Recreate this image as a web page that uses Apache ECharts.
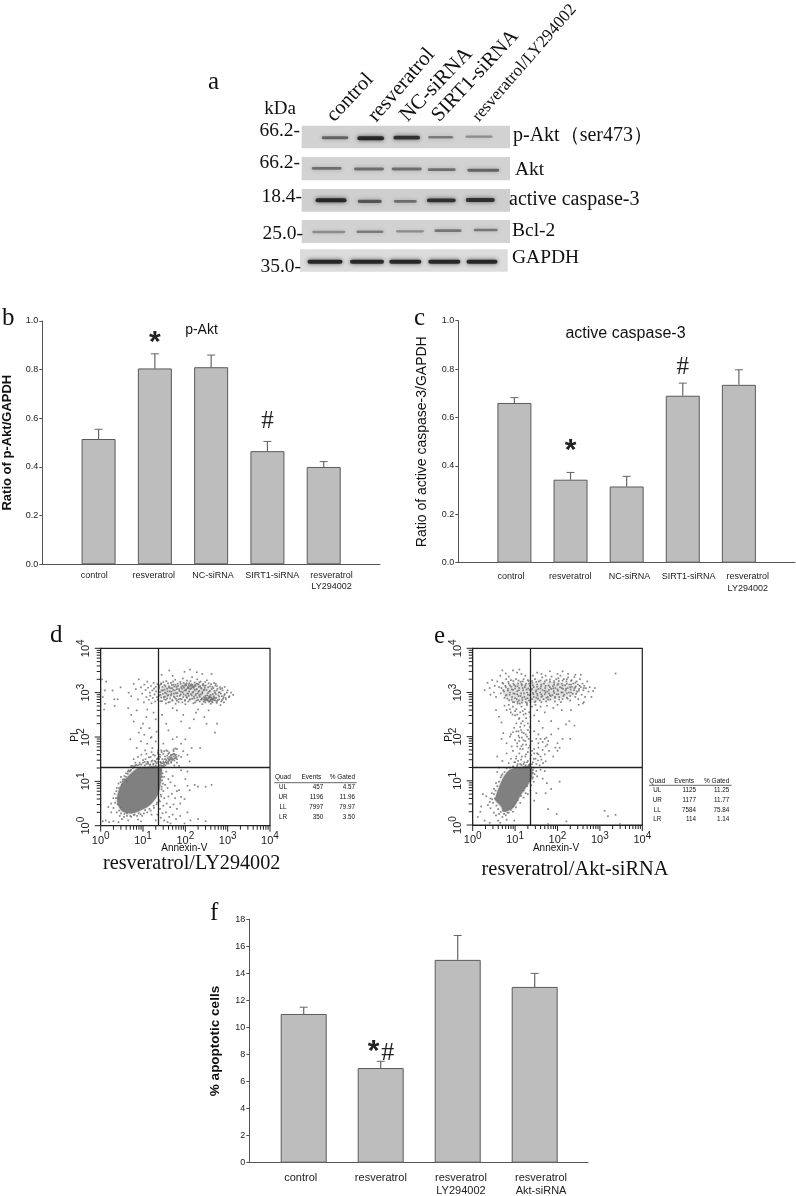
<!DOCTYPE html>
<html><head><meta charset="utf-8">
<style>html,body{margin:0;padding:0;background:#fff}#c{width:796px;height:1196px}</style>
<script src="https://cdn.jsdelivr.net/npm/echarts@6/dist/echarts.min.js"></script>
</head><body><div id="c"></div>
<script>
// ---------- data ----------
const blotIntensity = [
  [.55,1,.92,.42,.3],     // p-Akt
  [.5,.5,.5,.5,.55],      // Akt
  [1,.65,.5,.92,.92],     // active caspase-3
  [.3,.4,.3,.45,.45],     // Bcl-2
  [1,1,1,1,1]             // GAPDH
];
const blotNames = ['p-Akt（ser473）','Akt','active caspase-3','Bcl-2','GAPDH'];
const blotWeights = ['66.2-','66.2-','18.4-','25.0-','35.0-'];
const blotLanes = ['control','resveratrol','NC-siRNA','SIRT1-siRNA','resveratrol/LY294002'];

const bCategories = ['control','resveratrol','NC-siRNA','SIRT1-siRNA','resveratrol\nLY294002'];
const bValues = [.515,.805,.81,.465,.40];
const bErrorTops = [.555,.865,.86,.505,.422];
const cCategories = bCategories;
const cValues = [.66,.343,.315,.69,.735];
const cErrorTops = [.682,.373,.357,.742,.797];
const fCategories = ['control','resveratrol','resveratrol\nLY294002','resveratrol\nAkt-siRNA'];
const fValues = [11,7,15,13];
const fErrorTops = [11.5,7.5,16.8,14];

const dQuad = [['UL','457','4.57'],['UR','1196','11.96'],['LL','7997','79.97'],['LR','350','3.50']];
const eQuad = [['UL','1125','11.25'],['UR','1177','11.77'],['LL','7584','75.84'],['LR','114','1.14']];

// flow cytometry gates (Annexin-V, PI)
const dGate = [23,20.3];
const eGate = [22.8,19.8];

// dense populations, outlines in log10(Annexin-V), log10(PI)
const dBlob = [.40,.70,.50,.95,.62,1.08,.74,1.2,.89,1.3,1.15,1.33,1.362,1.33,1.44,1.3,1.42,1.0,1.36,.72,1.2,.5,1.02,.38,.75,.28,.52,.32,.40,.5];
const eBlob = [.557,.679,.715,1.056,.872,1.244,1.1,1.3,1.382,1.319,1.382,1.056,1.108,.641,.98,.42,.872,.34,.72,.3,.675,.414,.534,.566];
const eBand = [.7,3.05,1.0,3.2,1.36,3.2,1.9,3.25,2.4,3.12,2.5,3.0,2.0,2.85,1.5,2.8,1.0,2.78,.75,2.9];
const dBand = [1.4,3.1,1.9,3.18,2.4,3.15,2.75,3.0,2.7,2.82,2.35,2.82,1.9,2.92,1.4,2.9];

// individual events, flat pairs of log10(Annexin-V), log10(PI)
const dDots = [
1.38,3.12,1.41,2.95,1.43,3.21,1.45,2.81,1.47,3.05,1.49,2.9,1.51,3.17,1.52,3.0,1.54,2.84,1.55,3.26,1.57,3.09,1.58,2.93,1.6,2.78,1.61,3.14,1.63,3.03,1.64,2.87,1.66,3.22,1.67,2.97,1.69,3.1,1.7,2.82,1.72,3.18,1.73,2.91,1.75,3.05,1.76,3.29,1.78,2.86,1.79,3.13,1.81,2.99,1.82,3.2,1.84,2.79,1.85,3.08,1.87,2.93,1.88,3.24,1.9,3.02,1.91,2.85,1.93,3.16,1.94,3.32,1.96,2.96,1.97,3.11,1.99,2.82,2.0,3.19,2.01,3.05,2.03,2.9,2.04,3.27,2.06,3.13,2.07,2.98,2.09,3.21,2.1,2.84,2.12,3.08,2.13,3.17,2.15,2.94,2.16,3.35,2.18,3.12,2.19,3.02,2.21,2.87,2.22,3.23,2.24,3.15,2.25,2.97,2.27,3.08,2.28,3.3,2.3,2.83,2.31,3.18,2.33,3.04,2.34,2.91,2.36,3.25,2.37,3.11,2.39,2.86,2.4,2.98,2.42,3.2,2.43,2.8,2.45,3.07,2.46,2.89,2.48,3.16,2.49,2.84,2.51,3.28,2.52,2.94,2.54,3.12,2.55,2.87,2.57,2.81,2.58,3.04,2.6,2.9,2.61,3.19,2.63,2.85,2.64,2.78,2.66,3.1,2.67,2.92,2.69,2.83,2.7,3.0,2.72,3.2,2.73,2.88,2.75,2.8,2.76,3.09,2.78,2.94,2.8,2.85,2.82,3.12,2.84,2.98,2.86,2.83,2.88,3.05,2.9,2.9,2.93,2.97,2.96,2.85,3.0,3.05,3.04,2.92,3.08,3.0,3.13,2.95,
1.95,3.14,2.02,3.17,2.08,3.1,2.14,3.19,2.2,3.14,2.26,3.2,1.44,3.4,1.62,3.5,1.7,3.38,1.98,3.47,2.11,3.52,2.27,3.46,2.4,3.42,2.62,3.42,2.48,2.86,2.53,2.82,2.56,2.9,2.6,2.84,2.5,2.88,2.62,2.88,2.44,2.85,2.66,2.84,
.66,3.0,.72,2.92,.78,3.2,.83,3.08,.88,2.85,.9,3.3,.95,3.12,.98,2.98,1.02,2.78,1.03,3.18,1.06,3.06,1.08,2.9,1.1,3.25,1.12,3.11,1.14,2.84,1.16,3.0,1.17,2.93,1.19,3.15,1.2,2.76,1.22,3.05,1.23,2.88,1.25,3.22,1.26,3.09,1.27,2.96,1.29,2.8,1.3,3.13,1.31,3.03,1.33,2.9,1.34,3.19,1.35,2.84,.03,3.3,.05,2.9,.1,2.75,.1,3.05,.13,3.25,.28,3.05,.32,2.85,.4,2.85,.47,3.12,.08,2.62,.33,2.7,
.65,2.65,.72,2.5,.78,2.35,.85,2.6,.9,2.1,.95,2.2,1.0,2.3,1.03,2.05,1.08,2.45,1.1,2.62,1.15,2.2,1.2,2.0,1.25,2.55,1.3,2.4,1.32,2.12,1.45,2.5,1.55,2.3,1.7,2.65,1.8,2.6,1.9,2.35,1.95,2.5,2.1,2.2,2.2,2.4,2.25,2.55,2.3,2.62,2.45,2.45,2.5,2.3,2.55,2.6,2.75,2.3,2.7,2.1,1.6,2.15,1.7,1.95,1.8,2.0,1.9,1.85,2.0,1.95,
.7,1.95,.85,1.75,.95,1.9,1.05,1.7,1.1,1.85,1.18,1.98,1.22,1.75,1.3,1.9,1.35,1.65,1.48,1.85,1.55,1.7,1.6,1.62,1.72,1.72,1.76,1.74,1.8,1.73,1.9,1.55,1.95,1.68,2.05,1.6,2.1,1.45,2.35,1.75,2.15,1.75,
.72,1.35,.78,1.5,.82,1.42,.88,1.55,.92,1.38,.96,1.6,1.0,1.48,1.04,1.36,1.08,1.62,1.1,1.44,1.14,1.54,1.17,1.38,1.2,1.66,1.22,1.47,1.25,1.4,1.28,1.58,1.3,1.36,1.33,1.5,1.36,1.62,1.36,1.44,1.4,1.6,1.43,1.7,1.5,1.68,1.62,1.65,1.68,1.5,1.74,1.36,1.8,1.5,1.85,1.35,1.9,1.25,2.05,1.22,
.66,1.25,.6,1.18,.55,1.05,.48,1.1,.62,1.0,.5,.92,.42,.95,.38,.85,.33,.72,.3,.62,.25,.5,.3,.4,.38,.3,.45,.22,.55,.2,.62,.28,.72,.2,.8,.25,.9,.28,.98,.22,1.05,.35,1.15,.38,1.25,.45,1.2,.25,1.33,.52,.25,.3,.18,.42,.12,.12,.05,.1,.2,.08,.3,.1,.42,.08,.5,.15,.65,.12,.95,.1,.88,.14,
1.42,1.25,1.46,1.18,1.5,1.1,1.45,1.02,1.55,1.22,1.6,1.05,1.52,.92,1.44,.88,1.48,.78,1.58,.85,1.65,.98,1.7,1.12,1.75,.9,1.8,.78,1.42,.7,1.5,.62,1.6,.66,1.68,.72,1.76,.62,1.85,.8,1.9,.65,1.4,.55,1.48,.45,1.56,.5,1.64,.42,1.72,.48,1.8,.38,1.88,.5,1.4,.38,1.46,.28,1.54,.3,1.62,.2,1.7,.25,1.78,.15,1.42,.18,1.5,.12,1.58,.08,1.34,.25,1.3,.12,1.88,.22,1.98,.6,2.05,.9,2.1,.8,2.0,1.05,2.22,.92,2.3,.88,2.48,.88,2.62,.92,2.05,.3,2.12,.12,2.3,.15,2.48,.1,1.65,.05,1.98,.05
];
const dDotsDense = [
1.48,3.24,1.71,3.25,1.96,3.22,2.12,3.26,2.33,3.23,2.47,3.24,2.68,3.22,1.42,3.19,1.59,3.21,1.77,3.18,1.89,3.2,2.03,3.21,2.17,3.18,2.29,3.2,2.41,3.17,2.55,3.21,2.71,3.16,1.39,3.16,1.53,3.14,1.68,3.17,1.83,3.15,1.99,3.16,2.08,3.17,2.16,3.14,2.23,3.17,2.35,3.15,2.44,3.16,2.58,3.14,2.75,3.15,2.93,3.13,1.46,3.13,1.62,3.11,1.74,3.14,1.9,3.12,2.05,3.1,2.11,3.14,2.2,3.11,2.32,3.13,2.46,3.11,2.64,3.13,2.83,3.08,1.37,3.09,1.51,3.07,1.65,3.1,1.8,3.08,1.92,3.09,2.02,3.07,2.14,3.1,2.26,3.07,2.38,3.09,2.5,3.06,2.62,3.08,2.74,3.05,2.87,3.1,1.44,3.05,1.58,3.03,1.71,3.06,1.86,3.04,1.98,3.05,2.09,3.03,2.22,3.06,2.31,3.02,2.43,3.05,2.56,3.02,2.69,3.04,2.81,3.01,2.98,3.0,1.4,3.01,1.55,2.98,1.67,3.02,1.78,2.99,1.94,3.01,2.05,2.98,2.17,3.0,2.29,2.98,2.4,3.01,2.53,2.99,2.65,2.97,2.79,3.0,2.92,2.94,1.47,2.97,1.6,2.95,1.73,2.98,1.89,2.96,2.01,2.94,2.13,2.97,2.24,2.94,2.36,2.96,2.48,2.93,2.6,2.95,2.72,2.97,2.86,2.92,3.03,2.9,1.38,2.93,1.52,2.91,1.66,2.94,1.81,2.92,1.95,2.9,2.08,2.93,2.2,2.91,2.33,2.94,2.44,2.9,2.57,2.92,2.68,2.89,2.8,2.91,2.95,2.88,1.43,2.89,1.57,2.87,1.75,2.89,1.88,2.86,2.04,2.88,2.16,2.86,2.28,2.89,2.39,2.87,2.5,2.84,2.55,2.88,2.62,2.86,2.7,2.88,2.77,2.83,2.89,2.86,1.5,2.85,1.69,2.83,1.84,2.85,1.99,2.83,2.11,2.85,2.26,2.82,2.37,2.84,2.46,2.82,2.52,2.85,2.59,2.82,2.65,2.86,2.72,2.82,2.85,2.8,1.41,2.81,1.63,2.79,1.8,2.82,1.93,2.78,2.07,2.8,2.23,2.78,2.34,2.8,2.47,2.78,2.56,2.79,2.63,2.8,2.74,2.77,2.91,2.78,1.54,2.76,1.77,2.75,2.0,2.74,2.19,2.76,2.4,2.74,2.6,2.75,2.83,2.72,
.36,.62,.34,.52,.4,.48,.42,.62,.37,.78,.43,.85,.47,.98,.52,1.04,.56,1.12,.6,1.1,.64,1.17,.68,1.22,.72,1.26,.76,1.3,.8,1.33,.84,1.37,.88,1.36,.92,1.42,.96,1.38,1.0,1.42,1.04,1.44,1.08,1.39,1.12,1.43,1.16,1.37,1.2,1.45,1.24,1.38,1.28,1.46,1.32,1.41,1.34,1.52,1.38,1.5,1.42,1.42,1.46,1.5,1.5,1.42,1.55,1.42,1.6,1.4,1.66,1.42,1.74,1.62,1.78,1.6,1.8,1.42,1.84,1.58,1.45,1.1,1.47,.95,1.44,.82,1.43,.66,1.38,.58,1.32,.48,1.26,.4,1.18,.34,1.1,.3,1.02,.28,.94,.26,.86,.22,.78,.24,.7,.22,.62,.22,.56,.26,.48,.28,.44,.34,.48,.42,.52,1.0,.58,1.04,.7,1.24,.82,1.36,.64,1.22,.76,1.35,1.06,1.5,1.12,1.4,1.18,1.55,1.24,1.6,1.3,1.44,1.36,1.7,1.4,1.55,1.44,1.66,1.52,1.56,1.48,1.62,1.58,1.68,1.66,1.6,1.72,1.68,
1.4,1.36,1.43,1.4,1.46,1.35,1.48,1.45,1.5,1.38,1.52,1.5,1.54,1.44,1.56,1.4,1.58,1.52,1.6,1.46,1.62,1.55,1.64,1.5,1.66,1.58,1.67,1.44,1.68,1.54,1.7,1.6,1.71,1.5,1.73,1.56,1.74,1.47,1.76,1.58,1.77,1.52,1.79,1.55,1.41,1.44,1.44,1.35,1.47,1.41,1.49,1.34,1.53,1.36,1.55,1.48,1.57,1.58,1.59,1.43,1.61,1.5,1.63,1.47,1.65,1.54,1.69,1.48,1.72,1.62,1.75,1.52
];
const eDots = [
.62,3.12,.66,2.98,.7,3.22,.72,3.05,.75,2.88,.77,3.15,.79,3.3,.8,2.95,.83,3.08,.85,3.2,.86,2.82,.88,3.0,.9,3.28,.91,3.13,.93,2.9,.95,3.06,.96,3.2,.98,2.78,.99,2.97,1.01,3.14,1.02,3.3,1.04,2.85,1.05,3.03,1.07,3.2,1.08,2.92,1.1,3.1,1.11,2.75,1.13,3.24,1.14,2.98,1.16,3.16,1.17,2.83,1.19,3.05,1.2,3.3,1.22,2.9,1.23,3.12,1.25,2.78,1.26,3.2,1.28,3.0,1.29,2.87,1.31,3.09,1.32,3.26,1.34,2.94,1.35,3.15,
1.38,3.05,1.4,2.85,1.41,3.22,1.43,2.96,1.44,3.12,1.46,2.78,1.47,3.3,1.49,3.02,1.5,2.88,1.52,3.18,1.53,2.93,1.55,3.08,1.56,3.25,1.58,2.82,1.59,3.0,1.61,3.14,1.62,2.9,1.64,3.34,1.65,3.05,1.67,2.85,1.68,3.2,1.7,2.96,1.71,3.1,1.73,2.8,1.74,3.28,1.76,3.02,1.77,2.9,1.79,3.16,1.8,2.98,1.82,3.24,1.83,2.84,1.85,3.08,1.86,3.36,1.88,2.94,1.89,3.14,1.91,3.03,1.92,3.22,1.94,2.88,1.95,3.1,1.97,3.3,1.98,2.96,2.0,3.17,2.01,3.04,2.03,3.26,2.04,2.9,2.06,3.12,2.07,3.38,2.09,3.0,2.1,3.2,2.12,2.85,2.13,3.08,2.15,3.3,2.16,2.95,2.18,3.16,2.19,3.04,2.21,3.25,2.22,2.88,2.24,3.1,2.25,3.34,2.27,3.0,2.28,3.18,2.3,2.92,2.31,3.07,2.33,3.28,2.34,3.13,2.36,2.97,2.37,3.2,2.39,3.05,2.4,3.35,2.42,2.9,2.43,3.14,2.45,3.25,2.46,3.02,2.48,3.18,2.49,2.85,2.51,3.08,2.53,3.3,2.55,3.12,2.57,2.95,2.59,3.2,2.61,3.05,2.63,3.15,2.65,2.9,2.67,3.1,2.7,3.25,2.73,3.02,2.76,3.12,2.8,2.9,2.84,3.03,2.88,3.1,2.62,2.78,
.28,3.05,.35,3.22,.4,3.1,.46,3.28,.5,3.0,.52,3.15,.55,2.9,.58,3.25,.42,2.95,.65,3.38,.7,3.5,.78,3.43,.85,3.36,.95,3.5,1.05,3.45,1.1,3.52,1.15,3.42,1.24,3.38,1.42,3.38,1.52,3.45,1.62,3.42,1.72,3.38,1.82,3.48,2.0,3.42,2.12,3.48,2.25,3.42,2.42,3.4,2.55,3.4,3.37,3.43,
.75,2.7,.8,2.6,.85,2.72,.9,2.55,.95,2.68,1.0,2.48,1.03,2.62,1.06,2.75,1.09,2.4,1.12,2.55,1.15,2.68,1.18,2.35,1.2,2.5,1.23,2.62,1.26,2.42,1.28,2.72,1.3,2.3,1.33,2.55,1.35,2.22,1.4,2.68,1.45,2.48,1.48,2.72,1.52,2.6,1.56,2.35,1.6,2.68,1.65,2.2,1.7,2.55,1.75,2.7,1.85,2.35,1.9,2.65,2.0,2.72,2.02,2.18,2.1,2.6,2.2,2.28,2.28,2.35,2.32,2.6,2.4,2.25,2.5,2.72,2.6,2.75,.55,2.6,.62,2.45,.68,2.32,
.68,1.95,.72,2.08,.8,1.85,.88,2.0,.92,1.78,.95,2.1,1.0,1.92,1.03,2.12,1.05,1.78,1.08,2.02,1.1,1.9,1.12,1.72,1.14,2.15,1.16,1.98,1.18,1.82,1.2,2.08,1.24,1.9,1.28,2.0,1.32,1.75,1.35,2.1,1.4,1.9,1.5,1.95,1.55,2.05,1.65,1.88,1.7,1.95,1.74,1.98,1.78,1.9,1.85,2.05,2.0,1.68,2.05,1.75,2.12,1.95,2.3,1.95,.9,2.05,1.45,2.12,
.58,1.55,.7,1.45,.8,1.62,.85,1.4,.9,1.5,.95,1.68,1.0,1.42,1.03,1.55,1.06,1.38,1.1,1.62,1.14,1.48,1.18,1.72,1.2,1.38,1.24,1.55,1.28,1.42,1.3,1.65,1.33,1.35,1.36,1.5,1.4,1.68,1.42,1.42,1.45,1.72,1.48,1.5,1.52,1.62,1.55,1.75,1.6,1.55,1.65,1.7,1.7,1.6,1.72,1.78,1.76,1.82,1.8,1.68,1.66,1.4,1.72,1.44,1.9,1.55,1.95,1.75,2.0,1.85,1.55,1.85,1.6,1.95,
.62,1.3,.68,1.12,.58,1.2,.55,.95,.5,.82,.45,.72,.42,.6,.4,.52,.36,.45,.42,.38,.5,.28,.55,.22,.62,.25,.7,.18,.78,.22,.85,.28,.95,.3,1.02,.4,1.12,.5,1.2,.62,1.25,.72,.32,.65,.24,.7,.18,.3,.12,.18,.28,.1,.4,.05,.6,.1,.8,.12,.98,.1,.65,.05,.2,.42,
1.42,1.25,1.46,1.15,1.4,1.05,1.5,1.22,1.44,.98,1.52,1.1,1.38,.9,1.36,.78,1.3,.7,1.6,1.25,1.7,1.22,1.65,1.05,1.75,.95,1.85,.82,1.72,.72,1.5,.72,1.45,.55,1.78,.36,2.21,.08,1.78,.02,3.11,.32,3.19,.2,3.37,.23,3.47,.02,1.98,.25,2.05,.98
];
const eDotsDense = [
.72,3.2,.84,3.24,.96,3.26,1.08,3.27,1.18,3.25,1.3,3.28,.68,3.1,.78,3.12,.88,3.16,.98,3.17,1.06,3.14,1.15,3.19,1.24,3.16,1.33,3.2,.74,3.02,.83,3.04,.92,3.07,1.0,3.09,1.09,3.05,1.18,3.1,1.27,3.07,1.35,3.06,.78,2.93,.87,2.95,.96,2.98,1.05,2.96,1.13,2.92,1.21,2.98,1.3,2.95,.82,2.86,.92,2.84,1.0,2.87,1.09,2.82,1.17,2.88,1.25,2.85,1.33,2.82,.95,2.78,1.06,2.79,1.16,2.77,1.28,2.76,1.36,2.78,
1.4,3.26,1.5,3.24,1.6,3.27,1.7,3.25,1.82,3.29,1.92,3.26,2.02,3.32,2.12,3.27,2.22,3.3,2.32,3.26,2.42,3.22,1.42,3.16,1.52,3.13,1.62,3.18,1.72,3.15,1.82,3.12,1.92,3.17,2.02,3.2,2.12,3.16,2.22,3.2,2.32,3.18,2.42,3.12,2.52,3.15,2.62,3.1,1.4,3.08,1.5,3.05,1.6,3.09,1.7,3.04,1.8,3.06,1.9,3.09,2.0,3.07,2.1,3.1,2.2,3.08,2.3,3.12,2.4,3.09,2.5,3.04,1.42,2.99,1.52,2.97,1.62,2.96,1.72,3.0,1.82,2.94,1.92,2.99,2.02,2.96,2.12,3.0,2.22,2.98,2.32,3.0,2.44,2.97,1.44,2.9,1.54,2.86,1.64,2.92,1.74,2.88,1.84,2.92,1.94,2.9,2.04,2.84,2.14,2.92,2.24,2.86,1.48,2.8,1.62,2.78,1.78,2.84,1.94,2.8,2.08,2.78,2.3,2.82,
.88,2.62,.94,2.5,1.0,2.58,1.05,2.5,1.1,2.42,1.14,2.3,1.18,2.58,1.22,2.25,1.25,2.52,1.3,2.15,1.36,2.45,1.03,2.3,.98,2.2,1.08,2.12,1.12,2.22,1.16,2.1,1.2,1.92,1.25,2.05,1.32,1.95,1.1,1.98,1.05,1.85,1.15,1.78,1.26,1.82,1.35,1.8,.98,1.42,1.02,1.5,1.07,1.45,1.12,1.38,1.16,1.55,1.22,1.42,1.26,1.6,1.3,1.45,1.35,1.38,1.38,1.58,1.4,1.38,1.44,1.5,1.5,1.38,1.54,1.46,1.58,1.35,1.55,1.6,1.62,1.48,1.45,1.62,
.5,.7,.52,.6,.48,.5,.46,.58,.54,.78,.58,.88,.62,.98,.66,1.08,.7,1.15,.75,1.2,.8,1.28,.88,1.3,.95,1.33,1.05,1.34,1.15,1.36,1.25,1.35,1.33,1.36,1.42,1.18,1.42,1.08,1.44,1.3,1.36,1.0,1.28,.88,1.2,.78,1.14,.66,1.06,.56,1.0,.5,.94,.42,.9,.34,.82,.28,.74,.25,.66,.3,.6,.36,.56,.44
];

// ---------- page layout (pixels) ----------
const SANS='"Liberation Sans",Arial,sans-serif', SERIF='"Liberation Serif","Times New Roman",serif';
const laneX=[[35,70.7,106.7,140.7,179],[26.7,69,106.7,141.7,183.3],[31,69.7,105.3,141.3,180.3],[28.7,70,110,148,185.7],[25,67,105.3,144.3,182]];
const laneY=[[17.7,18.3,17.7,17.3,16.7],[48.3,49,49,49.7,50.3],[80.3,81.3,81.3,80.3,80],[112,111.7,111.3,110.7,110],[141.7,141.7,141.7,141.7,141.7]];
const laneW=[[26.7,26.7,26.7,25,27],[30,30,30,28,32],[31,24,23,29,29],[33,27,28,27,24],[35,34,32,32,31]];
const panels=[[1.7,5.7,208.3,22.6,'#d2d2d2'],[1.7,37,208.3,23.3,'#d2d2d2'],[1.7,69,208.3,22.7,'#cfcfcf'],[1.7,100,208.3,23,'#d2d2d2'],[0,129.3,207.7,22.4,'#dcdcdc']];

function T(text,x,y,o){o=o||{};return {type:'text',x:x,y:y,rotation:(o.rot||0)*Math.PI/180,z:50,silent:true,
  style:{text:text,fontSize:o.size||12,fontFamily:o.family||SERIF,fontWeight:o.weight||'normal',fill:o.color||'#111',
  align:o.align||'left',verticalAlign:o.v||'middle',textAlign:o.align||'left',textVerticalAlign:o.v||'middle'}};}
function L(x1,y1,x2,y2,c,w){return {type:'line',z:50,silent:true,shape:{x1,y1,x2,y2},style:{stroke:c,lineWidth:w}};}

const graphics=[
 T('a',208,82,{size:25}),T('b',2,318,{size:25}),T('c',414,318,{size:25}),T('d',50,635,{size:25}),T('e',434,636,{size:25}),T('f',210,913,{size:25}),
 T('kDa',280,109,{size:19,align:'center'}),
 T(blotWeights[0],300,130.7,{size:19.5,align:'right'}),T(blotWeights[1],300,162.7,{size:19.5,align:'right'}),T(blotWeights[2],302,196.7,{size:19.5,align:'right'}),T(blotWeights[3],303,234,{size:19.5,align:'right'}),T(blotWeights[4],301,266.7,{size:19.5,align:'right'}),
 T(blotNames[0],513,136,{size:20}),T(blotNames[1],515,170,{size:19.5}),T(blotNames[2],509,199.3,{size:20}),T(blotNames[3],512,231,{size:19.5}),T(blotNames[4],512,258,{size:19.5}),
 T(blotLanes[0],338,126,{size:20.5,rot:47,v:'bottom'}),T(blotLanes[1],380,126,{size:21,rot:49,v:'bottom'}),T(blotLanes[2],411,126,{size:21,rot:46,v:'bottom'}),T(blotLanes[3],443,126,{size:20.5,rot:47,v:'bottom'}),T(blotLanes[4],482,125,{size:17,rot:49,v:'bottom'}),
 T('p-Akt',201.5,330,{size:14,family:SANS,align:'center'}),
 T('active caspase-3',625.5,334,{size:16,family:SANS,align:'center'}),
 T('resveratrol/LY294002',191.7,864,{size:20.2,align:'center'}),
 T('resveratrol/Akt-siRNA',575,870,{size:20.4,align:'center'}),
 T('Annexin-V',184.3,848,{size:10,family:SANS,align:'center'}),T('Annexin-V',556,848,{size:10,family:SANS,align:'center'}),
 T('PI',75.7,737,{size:10,family:SANS,align:'center',rot:90}),T('PI',449,737,{size:10,family:SANS,align:'center',rot:90})
];
function quadTable(rows,cx,evR,gR,x1,x2,yh,yl,ys){
  graphics.push(T('Quad',cx,yh,{size:6.5,family:SANS,align:'center'}),T('Events',evR-2,yh,{size:6.5,family:SANS,align:'right'}),T('% Gated',gR,yh,{size:6.5,family:SANS,align:'right'}),L(x1,yl,x2,yl,'#666',1));
  rows.forEach((r,i)=>graphics.push(T(r[0],cx,ys[i],{size:6.3,family:SANS,align:'center'}),T(r[1],evR,ys[i],{size:6.3,family:SANS,align:'right'}),T(r[2],gR,ys[i],{size:6.3,family:SANS,align:'right'})));
}
quadTable(dQuad,283,323.3,355,274.3,356.7,777.7,782.7,[787.7,797.3,807.3,817.3]);
quadTable(eQuad,657.3,696,729.3,649,731.7,781,785.3,[790.7,800.3,810,819.3]);

// ---------- helpers ----------
const pairs=a=>{const o=[];for(let i=0;i<a.length;i+=2)o.push([10**a[i],10**a[i+1]]);return o;};
const grids=[],xAxes=[],yAxes=[],series=[];
function addGrid(left,top,width,height,extra){grids.push(Object.assign({left,top,width,height,outerBoundsMode:'none'},extra||{}));return grids.length-1;}

function barPanel(g,cats,vals,tops,notes,opt){
  const pad=opt.pad;
  const xi=xAxes.length,yi=yAxes.length,G=grids[g];
  const C=pad?['',...cats,'']:cats, V=pad?[null,...vals,null]:vals, off=pad?1:0;
  xAxes.push({gridIndex:g,type:'category',data:C,boundaryGap:!pad,
    axisLine:{show:pad,lineStyle:{color:'#555',width:1}},axisTick:{show:false},axisLabel:{show:false}});
  yAxes.push({gridIndex:g,type:'value',min:0,max:opt.max,interval:opt.step,offset:opt.offset||0,
    name:opt.name,nameLocation:'middle',nameGap:opt.nameGap,nameRotate:90,
    nameTextStyle:{fontFamily:SANS,fontSize:opt.nameSize,fontWeight:opt.nameWeight,color:'#111'},
    axisLine:{show:true,lineStyle:{color:'#555',width:1}},axisTick:{show:true,length:3,lineStyle:{color:'#555'}},splitLine:{show:false},
    axisLabel:{fontFamily:SANS,fontSize:9,color:'#222',margin:4,formatter:v=>opt.step<1?v.toFixed(1):String(v)}});
  series.push({type:'custom',xAxisIndex:xi,yAxisIndex:yi,z:1,silent:true,data:vals.map((v,i)=>[i+off,v,tops[i]]),
    renderItem:(p,api)=>{const a=api.coord([api.value(0),api.value(1)]),b=api.coord([api.value(0),api.value(2)]);
      return {type:'group',children:[
        {type:'line',shape:{x1:a[0],y1:a[1],x2:b[0],y2:b[1]},style:{stroke:'#666',lineWidth:1.2}},
        {type:'line',shape:{x1:b[0]-4,y1:b[1],x2:b[0]+4,y2:b[1]},style:{stroke:'#666',lineWidth:1}}]};}});
  series.push({type:'bar',xAxisIndex:xi,yAxisIndex:yi,z:2,silent:true,barWidth:opt.barWidth,data:V,
    itemStyle:{color:'#bdbdbd',borderColor:'#5a5a5a',borderWidth:1}});
  series.push({type:'custom',xAxisIndex:xi,yAxisIndex:yi,z:3,silent:true,data:notes.map(n=>[n.cat+off,n.val]),
    renderItem:(p,api)=>{const n=notes[p.dataIndex],c=api.coord([api.value(0),api.value(1)]),star=n.text==='*';
      return {type:'text',x:c[0]+(n.dx||0),y:c[1]+(star?n.size*.12:0),style:{text:n.text,fontSize:n.size,fontFamily:star?SANS:SERIF,fontWeight:star?'bold':'normal',fill:'#222',align:'center',verticalAlign:'middle',textAlign:'center',textVerticalAlign:'middle'}};}});
  // category labels sit on their own, wider spacing than the bars
  const lg=addGrid(opt.labelLeft,G.top,opt.labelStep*cats.length,G.height);
  xAxes.push({gridIndex:lg,type:'category',data:cats,axisLine:{show:false},axisTick:{show:false},
    axisLabel:{interval:0,fontFamily:SANS,fontSize:opt.catSize,color:'#222',margin:opt.catMargin,lineHeight:opt.catLine}});
  yAxes.push({gridIndex:lg,type:'value',min:0,max:1,show:false});
}

function flowPanel(g,dots,blob,band,gate){
  const xi=xAxes.length,yi=yAxes.length;
  const supLabel=(rot)=>({rotate:rot,margin:6,interval:0,formatter:v=>'{b|10}{s|'+Math.round(Math.log10(v))+'}',
    rich:{b:{fontFamily:SANS,fontSize:11,color:'#222'},s:{fontFamily:SANS,fontSize:10,color:'#222',padding:[0,0,8,0]}}});
  const axisCommon={type:'log',logBase:10,min:1,max:10000,axisLine:{show:true,lineStyle:{color:'#222',width:1}},axisTick:{show:false},splitLine:{show:false}};
  xAxes.push(Object.assign({gridIndex:g,axisLabel:supLabel(0)},axisCommon));
  yAxes.push(Object.assign({gridIndex:g,axisLabel:supLabel(90)},axisCommon));
  // log ticks, on their own layer: [value, value, tick length]
  const ticks=[];for(let k=1;k<=10000;k*=10){ticks.push([k,k,6]);if(k<10000)for(let m=2;m<10;m++)ticks.push([k*m,k*m,4]);}
  series.push({type:'custom',xAxisIndex:xi,yAxisIndex:yi,silent:true,zlevel:1,z:60,data:ticks,
    renderItem:(p,api)=>{const o=api.coord([1,1]),a=api.coord([api.value(0),1]),b=api.coord([1,api.value(1)]),n=api.value(2);
      return {type:'group',children:[
       {type:'line',shape:{x1:a[0],y1:o[1],x2:a[0],y2:o[1]+n},style:{stroke:'#222',lineWidth:1}},
       {type:'line',shape:{x1:o[0],y1:b[1],x2:o[0]-n,y2:b[1]},style:{stroke:'#222',lineWidth:1}}]};}});
  const poly=(arr,fill,op,blur)=>({type:'custom',xAxisIndex:xi,yAxisIndex:yi,silent:true,z:2,data:[[1,1]],
    renderItem:(p,api)=>({type:'polygon',shape:{points:pairs(arr).map(q=>api.coord(q)),smooth:.3},style:{fill:fill,opacity:op,shadowBlur:blur,shadowColor:fill}})});
  series.push(poly(band,'#9a9a9a',.16,8));
  series.push(poly(blob,'#808080',1,2));
  series.push({type:'scatter',xAxisIndex:xi,yAxisIndex:yi,silent:true,z:3,symbol:'rect',symbolSize:1.7,data:pairs(dots),
    itemStyle:{color:'#707070',opacity:.85},
    markLine:{silent:true,symbol:'none',animation:false,label:{show:false},lineStyle:{color:'#222',width:1.3,type:'solid'},
      data:[{xAxis:gate[0]},{yAxis:gate[1]}]}});
}

// ---------- a: blots ----------
const g0=addGrid(300,120,212,156);
xAxes.push({gridIndex:g0,type:'value',min:0,max:212,show:false});
yAxes.push({gridIndex:g0,type:'value',min:0,max:156,inverse:true,show:false});
series.push({type:'custom',xAxisIndex:0,yAxisIndex:0,silent:true,z:1,data:panels.map(p=>[p[0],p[1]]),
  renderItem:(p,api)=>{const r=panels[p.dataIndex],a=api.coord([r[0],r[1]]),b=api.coord([r[0]+r[2],r[1]+r[3]]);
    return {type:'rect',shape:{x:a[0],y:a[1],width:b[0]-a[0],height:b[1]-a[1]},style:{fill:r[4]}};}});
const bandData=[];blotIntensity.forEach((row,r)=>row.forEach((v,l)=>bandData.push([laneX[r][l],laneY[r][l],v,laneW[r][l]])));
series.push({type:'custom',xAxisIndex:0,yAxisIndex:0,silent:true,z:2,data:bandData,
  renderItem:(p,api)=>{const c=api.coord([api.value(0),api.value(1)]),v=api.value(2),w=api.value(3),h=1.6+2.4*v;
    const col='rgba(20,20,20,'+(.12+.72*v).toFixed(2)+')';
    return {type:'rect',shape:{x:c[0]-w/2,y:c[1]-h/2,width:w,height:h,r:h/2},style:{fill:col,shadowBlur:4,shadowColor:col}};}});

// ---------- b, c ----------
barPanel(addGrid(42.3,321,337.7,243.3),bCategories,bValues,bErrorTops,
  [{cat:1,val:.926,text:'*',size:30},{cat:3,val:.586,text:'#',size:25}],
  {pad:true,max:1,step:.2,barWidth:34,catSize:9,catMargin:5,catLine:11.7,labelLeft:64.7,labelStep:59.3,name:'Ratio of p-Akt/GAPDH',nameGap:28,nameSize:13,nameWeight:'bold'});
barPanel(addGrid(458.3,320.7,336.7,242),cCategories,cValues,cErrorTops,
  [{cat:1,val:.479,text:'*',size:30},{cat:3,val:.806,text:'#',size:25}],
  {pad:true,max:1,step:.2,barWidth:34,catSize:9,catMargin:8,catLine:11.7,labelLeft:481.4,labelStep:59.2,name:'Ratio of active caspase-3/GAPDH',nameGap:29,nameSize:14,nameWeight:'normal'});

// ---------- d, e ----------
flowPanel(addGrid(100.7,648.3,169.3,177.4,{show:true,borderColor:'#222',borderWidth:1.2}),dDots.concat(dDotsDense),dBlob,dBand,dGate);
flowPanel(addGrid(472.7,648.3,169.6,176.7,{show:true,borderColor:'#222',borderWidth:1.2}),eDots.concat(eDotsDense),eBlob,eBand,eGate);

// ---------- f ----------
barPanel(addGrid(265.2,919.3,308,243.4),fCategories,fValues,fErrorTops,
  [{cat:1,val:8.5,text:'*',size:30,dx:-7},{cat:1,val:8.1,text:'#',size:26,dx:7}],
  {pad:false,max:18,step:2,offset:15.9,barWidth:46,catSize:11,catMargin:9,catLine:13,labelLeft:260.7,labelStep:80.1,name:'% apoptotic cells',nameGap:27,nameSize:13.5,nameWeight:'bold'});
const gb=addGrid(249.3,919.3,338.7,243.4);
xAxes.push({gridIndex:gb,type:'value',min:0,max:1,axisLine:{show:true,lineStyle:{color:'#555',width:1}},axisTick:{show:false},axisLabel:{show:false},splitLine:{show:false}});
yAxes.push({gridIndex:gb,type:'value',min:0,max:1,show:false});

const chart=echarts.init(document.getElementById('c'),null,{renderer:'canvas'});
chart.setOption({animation:false,backgroundColor:'#fff',grid:grids,xAxis:xAxes,yAxis:yAxes,series:series,graphic:graphics});
</script></body></html>
